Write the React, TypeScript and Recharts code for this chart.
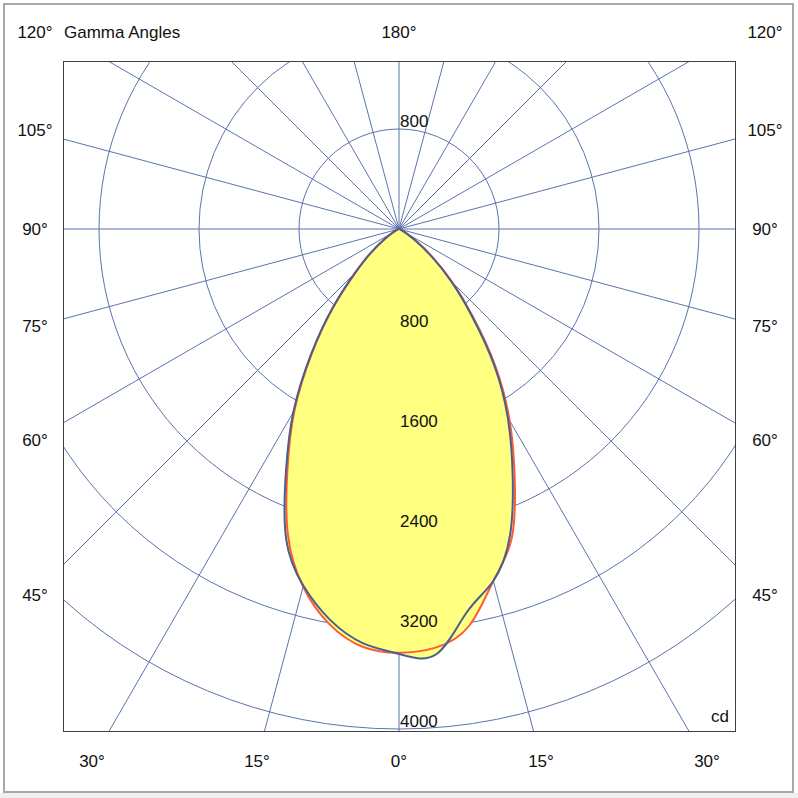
import { RadarChart, Radar, PolarGrid, PolarAngleAxis, PolarRadiusAxis, Curve } from "recharts";

// intensity (cd), gamma 0..180 in 5 degree steps
const gammaSteps = Array.from({ length: 37 }, (_, i) => i * 5);

const blueRight = [
  3400, 3415, 3115, 2915, 2600, 2150, 1740, 1325, 905, 590, 340, 160, 65, 25, 12, 8, 6, 4, 3,
  0, 0, 0, 0, 0, 0, 0, 0, 0, 0, 0, 0, 0, 0, 0, 0, 0, 0,
];
const blueLeft = [
  3400, 3325, 3175, 2955, 2640, 2140, 1690, 1230, 830, 500, 290, 140, 60, 25, 12, 8, 6, 4, 3,
  0, 0, 0, 0, 0, 0, 0, 0, 0, 0, 0, 0, 0, 0, 0, 0, 0, 0,
];
const redRight = [
  3390, 3362, 3225, 2915, 2635, 2190, 1770, 1350, 925, 605, 350, 165, 68, 26, 12, 8, 6, 4, 3,
  0, 0, 0, 0, 0, 0, 0, 0, 0, 0, 0, 0, 0, 0, 0, 0, 0, 0,
];
const redLeft = [
  3390, 3355, 3210, 2963, 2600, 2110, 1670, 1215, 820, 490, 285, 135, 55, 22, 10, 6, 4, 3, 2,
  0, 0, 0, 0, 0, 0, 0, 0, 0, 0, 0, 0, 0, 0, 0, 0, 0, 0,
];

const ringValues = [800, 1600, 2400, 3200, 4000];
const spokeGammas = Array.from({ length: 24 }, (_, i) => i * 15);
const bottomLabels = ["30°", "15°", "0°", "15°", "30°"];
const sideLabels = ["105°", "90°", "75°", "60°", "45°"];

const CX = 399;
const CY = 229;
const MAX_CD = 5600;
const OUTER = 700;
const FRAME = { left: 63, top: 61, width: 672, height: 670 };

const GRID = "#5b74ad";
const BLUE = "#4b5f8c";
const RED = "#ff5a3a";
const YELLOW = "#ffff80";
const FONT = "'Liberation Sans', Arial, sans-serif";

// index 0 = top (gamma 180), clockwise down the right side, then up the left side
const radarData = Array.from({ length: 72 }, (_, k) => {
  const right = k <= 36;
  const i = right ? 36 - k : k - 36;
  return {
    k,
    gamma: gammaSteps[i],
    blue: right ? blueRight[i] : blueLeft[i],
    red: right ? redRight[i] : redLeft[i],
  };
});

const SmoothShape = (props: any) => (
  <Curve
    type="natural"
    points={props.points}
    fill={props.fill}
    fillOpacity={props.fillOpacity}
    stroke={props.stroke}
    strokeWidth={props.strokeWidth}
  />
);

const RingTick = (props: any) => {
  const v = props.payload?.value;
  if (!ringValues.includes(v)) return null;
  const style = { fontFamily: FONT, fontSize: 17, fill: "#111" };
  return (
    <g>
      <text x={props.x + 1} y={props.y - 2} textAnchor="start" style={style}>
        {v}
      </text>
      {v === ringValues[0] && (
        <text x={props.x + 1} y={2 * CY - props.y - 2} textAnchor="start" style={style}>
          {v}
        </text>
      )}
    </g>
  );
};

function Txt({ x, y, anchor = "middle", children }: any) {
  const tx = anchor === "middle" ? "-50%" : anchor === "end" ? "-100%" : "0";
  return (
    <div
      style={{
        position: "absolute",
        left: x,
        top: y,
        transform: `translate(${tx}, -50%)`,
        whiteSpace: "nowrap",
        lineHeight: 1,
      }}
    >
      {children}
    </div>
  );
}

export default function App() {
  const sideY = [130, 229, 326, 440, 595];
  const bottomX = [92, 257, 399, 541, 707];
  return (
    <div
      style={{
        position: "absolute",
        left: 0,
        top: 0,
        width: 798,
        height: 798,
        background: "#fff",
        fontFamily: FONT,
        fontSize: 17,
        color: "#111",
      }}
    >
      <div style={{ position: "absolute", left: 0, top: 793, width: 798, height: 5, background: "#f0f0f0" }} />
      <div
        style={{
          position: "absolute",
          left: 3,
          top: 3,
          width: 791,
          height: 790,
          border: "2px solid #a8a8a8",
          boxSizing: "border-box",
        }}
      />

      <Txt x={35} y={32}>120°</Txt>
      <Txt x={64} y={32} anchor="start">Gamma Angles</Txt>
      <Txt x={399} y={32}>180°</Txt>
      <Txt x={765} y={32}>120°</Txt>
      {sideLabels.map((s, i) => (
        <Txt key={"l" + i} x={35} y={sideY[i]}>{s}</Txt>
      ))}
      {sideLabels.map((s, i) => (
        <Txt key={"r" + i} x={765} y={sideY[i]}>{s}</Txt>
      ))}
      {bottomLabels.map((s, i) => (
        <Txt key={"b" + i} x={bottomX[i]} y={761}>{s}</Txt>
      ))}

      <div
        style={{
          position: "absolute",
          left: FRAME.left,
          top: FRAME.top,
          width: FRAME.width,
          height: FRAME.height,
          overflow: "hidden",
        }}
      >
        <div style={{ position: "absolute", left: -FRAME.left, top: -FRAME.top }}>
          <RadarChart
            width={798}
            height={798}
            data={radarData}
            cx={CX}
            cy={CY}
            outerRadius={OUTER}
            margin={{ top: 0, right: 0, bottom: 0, left: 0 }}
          >
            <PolarAngleAxis dataKey="k" tick={false} axisLine={false} />
            <Radar dataKey="blue" stroke="none" fill={YELLOW} fillOpacity={1} dot={false} shape={SmoothShape} isAnimationActive={false} />
            <Radar dataKey="red" stroke="none" fill={YELLOW} fillOpacity={1} dot={false} shape={SmoothShape} isAnimationActive={false} />
            <PolarGrid
              gridType="circle"
              stroke={GRID}
              strokeWidth={1}
              polarRadius={ringValues.map((v) => (v / MAX_CD) * OUTER)}
              polarAngles={spokeGammas.map((g) => g - 90)}
            />
            <Radar dataKey="red" stroke={RED} strokeWidth={2} fill="none" dot={false} shape={SmoothShape} isAnimationActive={false} />
            <Radar dataKey="blue" stroke={BLUE} strokeWidth={2} fill="none" dot={false} shape={SmoothShape} isAnimationActive={false} />
            <PolarRadiusAxis angle={-90} domain={[0, MAX_CD]} tickCount={8} axisLine={false} tickLine={false} tick={RingTick} />
          </RadarChart>
        </div>
      </div>

      <div
        style={{
          position: "absolute",
          left: FRAME.left,
          top: FRAME.top,
          width: FRAME.width + 1,
          height: FRAME.height + 1,
          border: "1px solid #404040",
          boxSizing: "border-box",
        }}
      />
      <Txt x={729} y={716} anchor="end">cd</Txt>
    </div>
  );
}
